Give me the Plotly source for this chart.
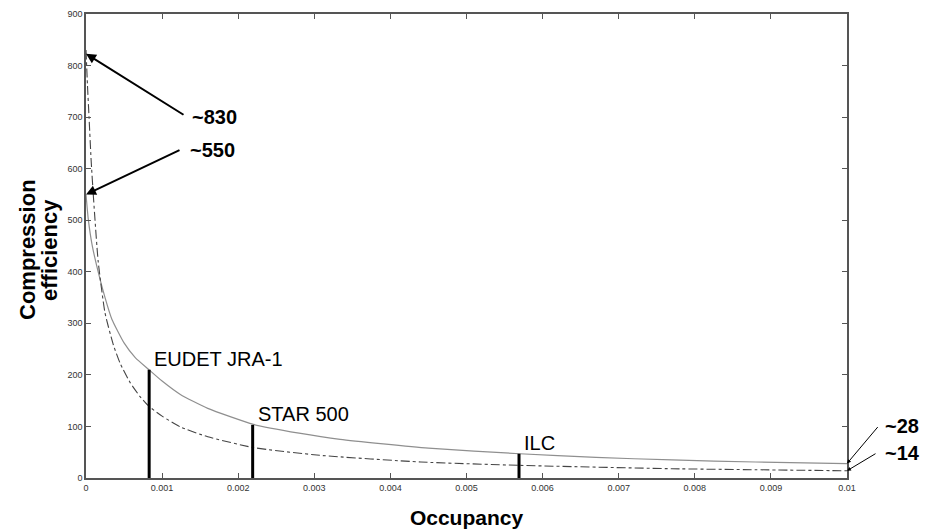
import plotly.graph_objects as go

# Data
solid_x = [0, 0.00003, 0.00008, 0.00016, 0.00025, 0.00034, 0.0005, 0.00065, 0.00082, 0.001, 0.00124, 0.0016, 0.0022, 0.0028, 0.00334, 0.0045, 0.0057, 0.0067, 0.0077, 0.0088, 0.01]
solid_y = [550, 502, 452, 400, 350, 308, 262, 233, 211, 188, 162, 135, 104, 87, 75, 58, 47, 40, 35, 31, 28]

dash_x = [0, 0.00002, 0.00004, 0.000066, 0.0001, 0.00016, 0.00025, 0.00036, 0.00045, 0.00058, 0.00071, 0.00082, 0.001, 0.00124, 0.0016, 0.0022, 0.00307, 0.0044, 0.0057, 0.0077, 0.0088, 0.01]
dash_y = [830, 760, 700, 620, 540, 420, 320, 258, 222, 185, 158, 140, 120, 99, 80, 59, 44, 31, 24.5, 18, 16, 14]

bar_x = [0.00083, 0.00219, 0.00569]
bar_top = [210, 103, 47]
bar_labels = ["EUDET JRA-1", "STAR 500", "ILC"]

x_ticks = [0, 0.001, 0.002, 0.003, 0.004, 0.005, 0.006, 0.007, 0.008, 0.009, 0.01]
x_tick_text = ["0", "0.001", "0.002", "0.003", "0.004", "0.005", "0.006", "0.007", "0.008", "0.009", "0.01"]
y_ticks = [0, 100, 200, 300, 400, 500, 600, 700, 800, 900]

FONT = "Liberation Sans, Arial, sans-serif"

fig = go.Figure()

fig.add_trace(go.Scatter(x=solid_x, y=solid_y, mode="lines",
                         line=dict(color="#8f8f8f", width=1.2, shape="spline", smoothing=0.5),
                         showlegend=False, hoverinfo="skip"))
fig.add_trace(go.Scatter(x=dash_x, y=dash_y, mode="lines",
                         line=dict(color="#444444", width=1.1, dash="dashdot", shape="spline", smoothing=0.5),
                         showlegend=False, hoverinfo="skip"))

bx, by = [], []
for xv, top in zip(bar_x, bar_top):
    bx += [xv, xv, None]
    by += [0, top, None]
fig.add_trace(go.Scatter(x=bx, y=by, mode="lines",
                         line=dict(color="black", width=3),
                         showlegend=False, hoverinfo="skip"))

label_font = dict(family=FONT, size=20, color="black")
for xv, top, txt in zip(bar_x, bar_top, bar_labels):
    fig.add_annotation(x=xv, y=top, text=txt, showarrow=False, xanchor="left", yanchor="bottom",
                       xshift=3, yshift=-2, font=label_font)

bold_font = dict(family=FONT, size=20, color="black")

# arrows to start values
fig.add_annotation(x=0, y=823, ax=99, ay=62, text="", showarrow=True, arrowhead=2,
                   arrowsize=1, arrowwidth=2, arrowcolor="black")
fig.add_annotation(x=0, y=solid_y[0], ax=95, ay=-45, text="", showarrow=True, arrowhead=2,
                   arrowsize=1, arrowwidth=2, arrowcolor="black")
fig.add_annotation(x=0, y=823, text="<b>~830</b>", showarrow=False,
                   xanchor="left", font=bold_font, xshift=104, yshift=-63)
fig.add_annotation(x=0, y=solid_y[0], text="<b>~550</b>", showarrow=False,
                   xanchor="left", font=bold_font, xshift=102, yshift=44)

# arrows to end values
fig.add_annotation(x=0.01, y=solid_y[-1], ax=32, ay=-38, text="", showarrow=True, arrowhead=2,
                   arrowsize=0.8, arrowwidth=1, arrowcolor="black")
fig.add_annotation(x=0.01, y=dash_y[-1], ax=30, ay=-18, text="", showarrow=True, arrowhead=2,
                   arrowsize=0.8, arrowwidth=1, arrowcolor="black")
fig.add_annotation(x=0.01, y=solid_y[-1], text="<b>~28</b>", showarrow=False,
                   xanchor="left", font=bold_font, xshift=36, yshift=38)
fig.add_annotation(x=0.01, y=dash_y[-1], text="<b>~14</b>", showarrow=False,
                   xanchor="left", font=bold_font, xshift=36, yshift=18)

# y-axis title as two rotated lines
title_font = dict(family=FONT, size=22, color="black")
fig.add_annotation(xref="paper", yref="paper", x=0, y=0.5, text="<b>Compression</b>", textangle=-90,
                   showarrow=False, xanchor="center", yanchor="middle", xshift=-59, yshift=-4, font=title_font)
fig.add_annotation(xref="paper", yref="paper", x=0, y=0.5, text="<b>efficiency</b>", textangle=-90,
                   showarrow=False, xanchor="center", yanchor="middle", xshift=-37, yshift=-4, font=title_font)

tick_font = dict(family=FONT, size=9, color="#333333")
axis_common = dict(showgrid=False, zeroline=False, showline=True, linecolor="#555555", linewidth=1.5,
                   mirror="ticks", ticks="inside", ticklen=5, tickcolor="#555555", tickwidth=1,
                   tickfont=tick_font, automargin=False, ticklabeloverflow="allow")

fig.update_xaxes(range=[0, 0.01], tickvals=x_ticks, ticktext=x_tick_text,
                 title=dict(text="<b>Occupancy</b>", font=dict(family=FONT, size=21, color="black"), standoff=19),
                 **axis_common)
fig.update_yaxes(range=[0, 900], tickvals=y_ticks, **axis_common)

# page body adds an 8px offset, so the figure is sized to fill the rest of the window
fig.update_layout(width=921, height=521, margin=dict(l=78, r=82, t=6, b=51),
                  plot_bgcolor="white", paper_bgcolor="white")

fig.write_html("out.html")
